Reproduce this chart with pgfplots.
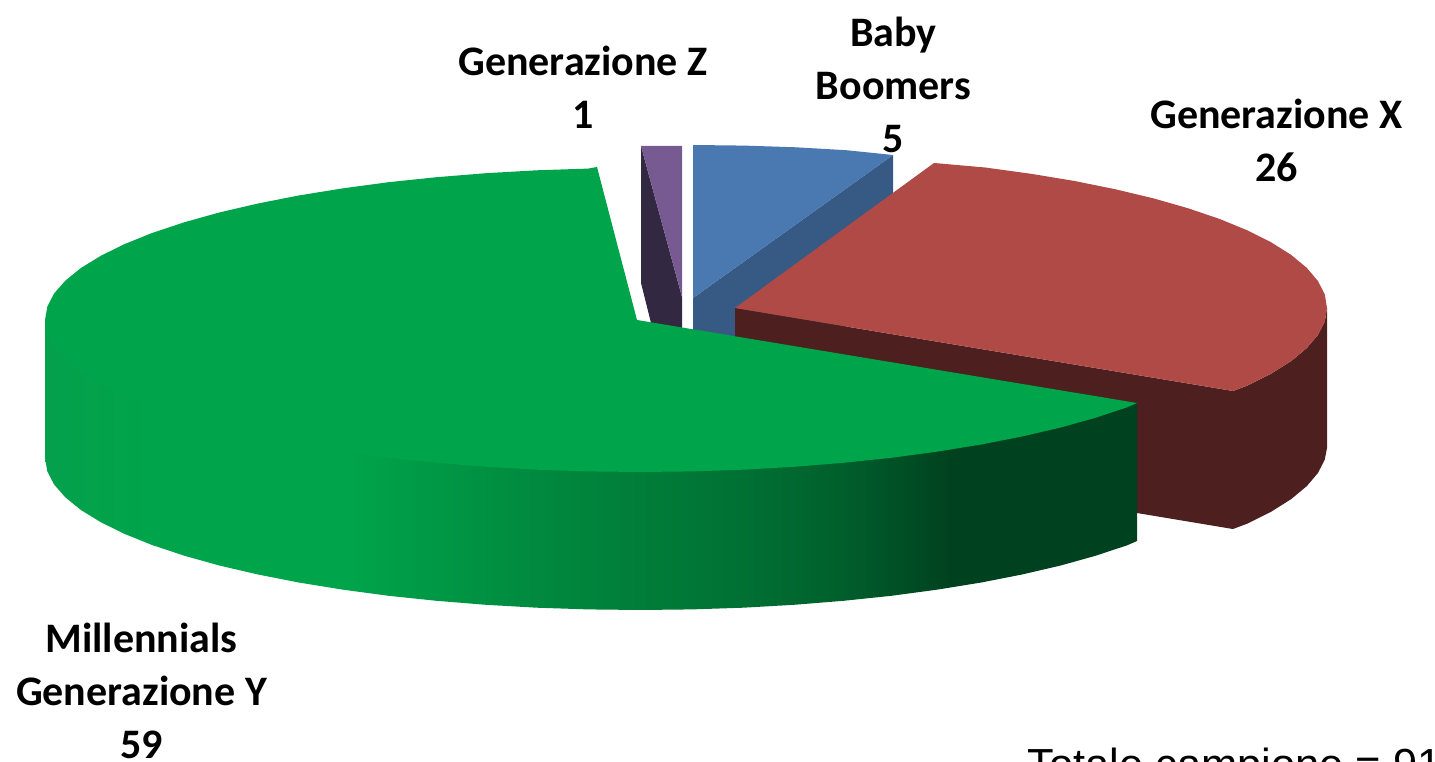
\documentclass[border=0pt]{standalone}
\usepackage{pgfplots}
\pgfplotsset{compat=1.18}
\usepackage{fontspec}
\setmainfont{Carlito}
\newfontfamily\arialf{Liberation Sans}
\definecolor{gtop}{HTML}{00A44A}
\definecolor{gs0}{HTML}{05A04C}
\definecolor{gm2}{HTML}{008C40}
\definecolor{gm3}{HTML}{007234}
\definecolor{gm4}{HTML}{005F2C}
\definecolor{gm5}{HTML}{00421F}
\definecolor{rtop}{HTML}{AF4A47}
\definecolor{rdark}{HTML}{4D1F1E}
\definecolor{btop}{HTML}{4A78B0}
\definecolor{bdark}{HTML}{375A84}
\definecolor{ptop}{HTML}{775A92}
\definecolor{pdark}{HTML}{332842}
\pgfdeclarehorizontalshading{greenside}{100bp}{color(0bp)=(gs0); color(25bp)=(gs0); color(30bp)=(gtop); color(39bp)=(gtop); color(46.6bp)=(gm2); color(56.5bp)=(gm3); color(61.5bp)=(gm4); color(66.4bp)=(gm5); color(100bp)=(gm5)}
\begin{document}
\begin{tikzpicture}
\path[use as bounding box] (0,0) rectangle (1435pt,762pt);
\clip (0,0) rectangle (1435pt,762pt);
\begin{axis}[at={(0,0)},anchor=south west,scale only axis,width=1435pt,height=762pt,
  xmin=0,xmax=1435,ymin=0,ymax=762,y dir=reverse,hide axis,clip=false,
  every axis plot/.append style={no markers,draw=none,forget plot}]
% Generazione Z: cut face and top
\addplot[fill=pdark] coordinates {(641,146) (682,297) (682,340) (654,335) (641,283)} --cycle;
\addplot[fill=ptop] coordinates {(641,146) (682,146) (682,297)} --cycle;
% Baby Boomers: cut face and top
\addplot[fill=bdark] coordinates {(693,298) (893,155) (893,293) (693,436)} --cycle;
\addplot[fill=btop] coordinates {(693,145) (744.6,145.6) (795.8,147.3) (846.2,150.2) (893,155) (693,298)} --cycle;
% Generazione X: side and top
\addplot[fill=rdark] coordinates {(735,308) (1233,391) (1247.7,385.5) (1271.5,373.5) (1291.3,361) (1306.8,348.1) (1318,334.9) (1324.8,321.5) (1327,308) (1327,448) (1324.8,459.5) (1318,472.9) (1306.8,486.1) (1291.3,499) (1271.5,511.5) (1247.7,523.5) (1233,529) (735,446)} --cycle;
\addplot[fill=rtop] coordinates {(735,308) (934,163) (985.2,167.5) (1031,173.8) (1074.6,181) (1115.5,189.3) (1153.6,198.4) (1188.5,208.4) (1220,219.1) (1247.7,230.5) (1271.5,242.5) (1291.3,255) (1306.8,267.9) (1318,281.1) (1324.8,294.5) (1327,308) (1324.8,321.5) (1318,334.9) (1306.8,348.1) (1291.3,361) (1271.5,373.5) (1247.7,385.5) (1233,391)} --cycle;
% Millennials: side and top
\addplot[shading=greenside] coordinates {(1137,403) (1137,541) (1127.4,545.2) (1095.8,555.7) (1060.7,565.5) (1022.5,574.4) (981.3,582.5) (937.5,589.6) (891.4,595.8) (843.5,600.8) (794,604.8) (743.3,607.7) (691.9,609.4) (640,610) (588.1,609.4) (536.7,607.7) (486,604.8) (436.5,600.8) (388.6,595.8) (342.5,589.6) (298.7,582.5) (257.5,574.4) (219.3,565.5) (184.2,555.7) (152.6,545.2) (124.7,534) (100.8,522.2) (80.9,510) (65.3,497.3) (54,484.4) (47.3,471.3) (45,458) (45,320)} --cycle;
\addplot[fill=gtop] coordinates {(637,320) (1137,403) (1127.4,407.2) (1095.8,417.7) (1060.7,427.5) (1022.5,436.4) (981.3,444.5) (937.5,451.6) (891.4,457.8) (843.5,462.8) (794,466.8) (743.3,469.7) (691.9,471.4) (640,472) (588.1,471.4) (536.7,469.7) (486,466.8) (436.5,462.8) (388.6,457.8) (342.5,451.6) (298.7,444.5) (257.5,436.4) (219.3,427.5) (184.2,417.7) (152.6,407.2) (124.7,396) (100.8,384.2) (80.9,372) (65.3,359.3) (54,346.4) (47.3,333.3) (45,320) (47.3,306.7) (54,293.6) (65.3,280.7) (80.9,268) (100.8,255.8) (124.7,244) (152.6,232.8) (184.2,222.3) (219.3,212.5) (257.5,203.6) (298.7,195.5) (342.5,188.4) (388.6,182.2) (436.5,177.2) (486,173.2) (536.7,170.3) (588.1,168.6) (597,167)} --cycle;
\node[align=center,font=\bfseries\fontsize{42}{53}\selectfont] at (axis cs:893.5,85) {Baby\\Boomers\\5};
\node[align=center,font=\bfseries\fontsize{42}{53}\selectfont] at (axis cs:583,87) {Generazione Z\\1};
\node[align=center,font=\bfseries\fontsize{42}{53}\selectfont] at (axis cs:1276.5,140) {Generazione X\\26};
\node[align=center,font=\bfseries\fontsize{42}{53}\selectfont] at (axis cs:141.5,691) {Millennials\\Generazione Y\\59};
\node[anchor=base west,inner sep=0pt,font=\arialf\fontsize{43.5}{50}\selectfont] at (axis cs:1027,779) {Totale campione = 91};
\end{axis}
\end{tikzpicture}
\end{document}
